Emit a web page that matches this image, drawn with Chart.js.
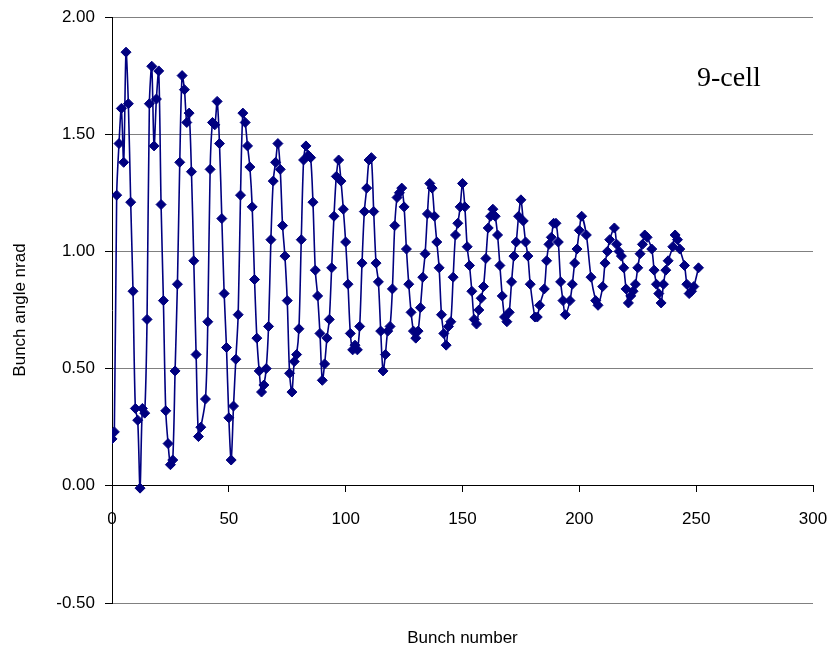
<!DOCTYPE html>
<html><head><meta charset="utf-8">
<script src="https://cdn.jsdelivr.net/npm/chart.js@4.4.1/dist/chart.umd.min.js"></script>
<style>
html,body{margin:0;padding:0;background:#fff;}
#wrap{position:relative;width:832px;height:649px;}
#note{position:absolute;left:697px;top:63px;font-family:'Liberation Serif','Times New Roman',serif;font-size:28px;color:#000;line-height:1;}
</style></head><body>
<div id="wrap"><canvas id="c" width="832" height="649"></canvas><div id="note">9-cell</div></div>
<script>
// bunch numbers (x) and bunch angles (y, nrad)
const bunchNumber = [
 0,1,2,3,4,5,6,7,8,9,10,11,12,13,14,15,16,17,18,19,20,21,22,23,24,25,26,27,28,29,30,
 31,32,33,34,35,36,37,38,40,41,42,43,44,45,46,47,48,49,50,51,52,53,54,55,56,57,58,59,
 60,61,62,63,64,65,66,67,68,69,70,71,72,73,74,75,76,77,78,79,80,81,82,83,84,85,86,87,88,89,
 90,91,92,93,94,95,96,97,98,99,100,101,102,103,104,105,106,107,108,109,110,111,112,113,114,115,116,117,118,119,
 120,121,122,123,124,125,126,127,128,129,130,131,132,133,134,135,136,137,138,139,140,141,142,143,144,145,146,147,148,149,
 150,151,152,153,154,155,156,157,158,159,160,161,162,163,164,165,166,167,168,169,170,171,172,173,174,175,176,177,178,179,
 181,182,183,185,186,187,188,189,190,191,192,193,194,196,197,198,199,200,201,203,205,207,208,210,211,212,213,215,
 216,217,218,219,220,221,222,223,224,225,226,227,228,229,231,232,233,234,235,236,237,238,240,241,242,243,245,246,247,248,249,251
];
const bunchAngle = [
 0.20,0.23,1.24,1.46,1.61,1.38,1.85,1.63,1.21,0.83,0.33,0.28,-0.01,0.33,0.31,0.71,1.63,1.79,1.45,1.65,1.77,1.20,0.79,0.32,0.18,0.09,0.11,0.49,0.86,1.38,1.75,
 1.69,1.55,1.59,1.34,0.96,0.56,0.21,0.25,0.37,0.70,1.35,1.55,1.54,1.64,1.46,1.14,0.82,0.59,0.29,0.11,0.34,0.54,0.73,1.24,1.59,1.55,1.45,1.36,
 1.19,0.88,0.63,0.49,0.40,0.43,0.50,0.68,1.05,1.30,1.38,1.46,1.35,1.11,0.98,0.79,0.48,0.40,0.53,0.56,0.67,1.05,1.39,1.45,1.41,1.40,1.21,0.92,0.81,0.65,
 0.45,0.52,0.63,0.71,0.93,1.15,1.32,1.39,1.30,1.18,1.04,0.86,0.65,0.58,0.60,0.58,0.68,0.95,1.17,1.27,1.39,1.40,1.17,0.95,0.87,0.66,0.49,0.56,0.66,0.68,
 0.84,1.11,1.23,1.25,1.27,1.19,1.01,0.86,0.74,0.66,0.63,0.66,0.76,0.89,0.99,1.16,1.29,1.27,1.15,1.04,0.93,0.73,0.65,0.60,0.68,0.70,0.89,1.07,1.12,1.19,
 1.29,1.19,1.02,0.94,0.83,0.71,0.69,0.75,0.80,0.85,0.97,1.10,1.15,1.18,1.15,1.07,0.94,0.81,0.72,0.70,0.74,0.87,0.98,1.04,1.15,1.22,1.13,1.04,0.98,0.86,
 0.72,0.72,0.77,0.84,0.96,1.03,1.06,1.12,1.12,1.04,0.87,0.79,0.73,0.79,0.86,0.95,1.01,1.09,1.15,1.07,0.89,0.79,0.77,0.85,0.95,1.00,1.05,1.10,
 1.03,1.00,0.98,0.93,0.84,0.78,0.81,0.83,0.86,0.93,0.99,1.03,1.07,1.06,1.01,0.92,0.86,0.82,0.78,0.86,0.92,0.96,1.02,1.07,1.05,1.01,0.94,0.86,0.82,0.83,0.85,0.93
];
const xTickStep = 50, xMin = 0, xMax = 300;
const yTickStep = 0.5, yMin = -0.5, yMax = 2.0;

const points = bunchNumber.map((x, i) => ({x: x, y: bunchAngle[i]}));
const NAVY = '#000080';
const FONT = "'Liberation Sans', Arial, sans-serif";

new Chart(document.getElementById('c'), {
  type: 'scatter',
  data: { datasets: [{
    data: points,
    showLine: true,
    borderColor: NAVY,
    backgroundColor: NAVY,
    borderWidth: 1.6,
    tension: 0.3,
    pointStyle: 'rectRot',
    pointRadius: 5,
    pointBorderWidth: 1,
    pointBorderColor: NAVY,
    pointBackgroundColor: NAVY
  }]},
  options: {
    responsive: false,
    animation: false,
    layout: { padding: { top: 17, right: 19, bottom: 0, left: 0 } },
    plugins: {
      legend: { display: false },
      tooltip: { enabled: false },
      title: {
        display: true, text: 'Bunch number', position: 'bottom', fullSize: false,
        color: '#000', font: { family: FONT, size: 17, weight: 'normal' },
        padding: { top: 25.6, bottom: 0 }
      }
    },
    scales: {
      x: {
        type: 'linear', position: { y: 0 }, min: xMin, max: xMax,
        afterFit: (s) => { s.paddingLeft = 0; s.paddingRight = 0; },
        ticks: { stepSize: xTickStep, color: '#000', font: { family: FONT, size: 17 }, padding: 17, maxRotation: 0 },
        grid: { drawOnChartArea: false, drawTicks: true, tickLength: 6, color: '#000' },
        border: { display: true, color: '#000', width: 1 }
      },
      y: {
        type: 'linear', position: 'left', min: yMin, max: yMax,
        afterFit: (s) => { s.width = 112; s.paddingTop = 0; s.paddingBottom = 0; },
        ticks: { stepSize: yTickStep, color: '#000', font: { family: FONT, size: 17 }, padding: 10,
                 callback: (v) => Number(v).toFixed(2) },
        grid: { color: '#808080', lineWidth: 1, tickLength: 7, tickColor: '#000' },
        border: { display: true, color: '#000', width: 1 },
        title: { display: true, text: 'Bunch angle nrad', color: '#000',
                 font: { family: FONT, size: 17, weight: 'normal' }, padding: { top: 10, bottom: 4 } }
      }
    }
  }
});
</script>
</body></html>
